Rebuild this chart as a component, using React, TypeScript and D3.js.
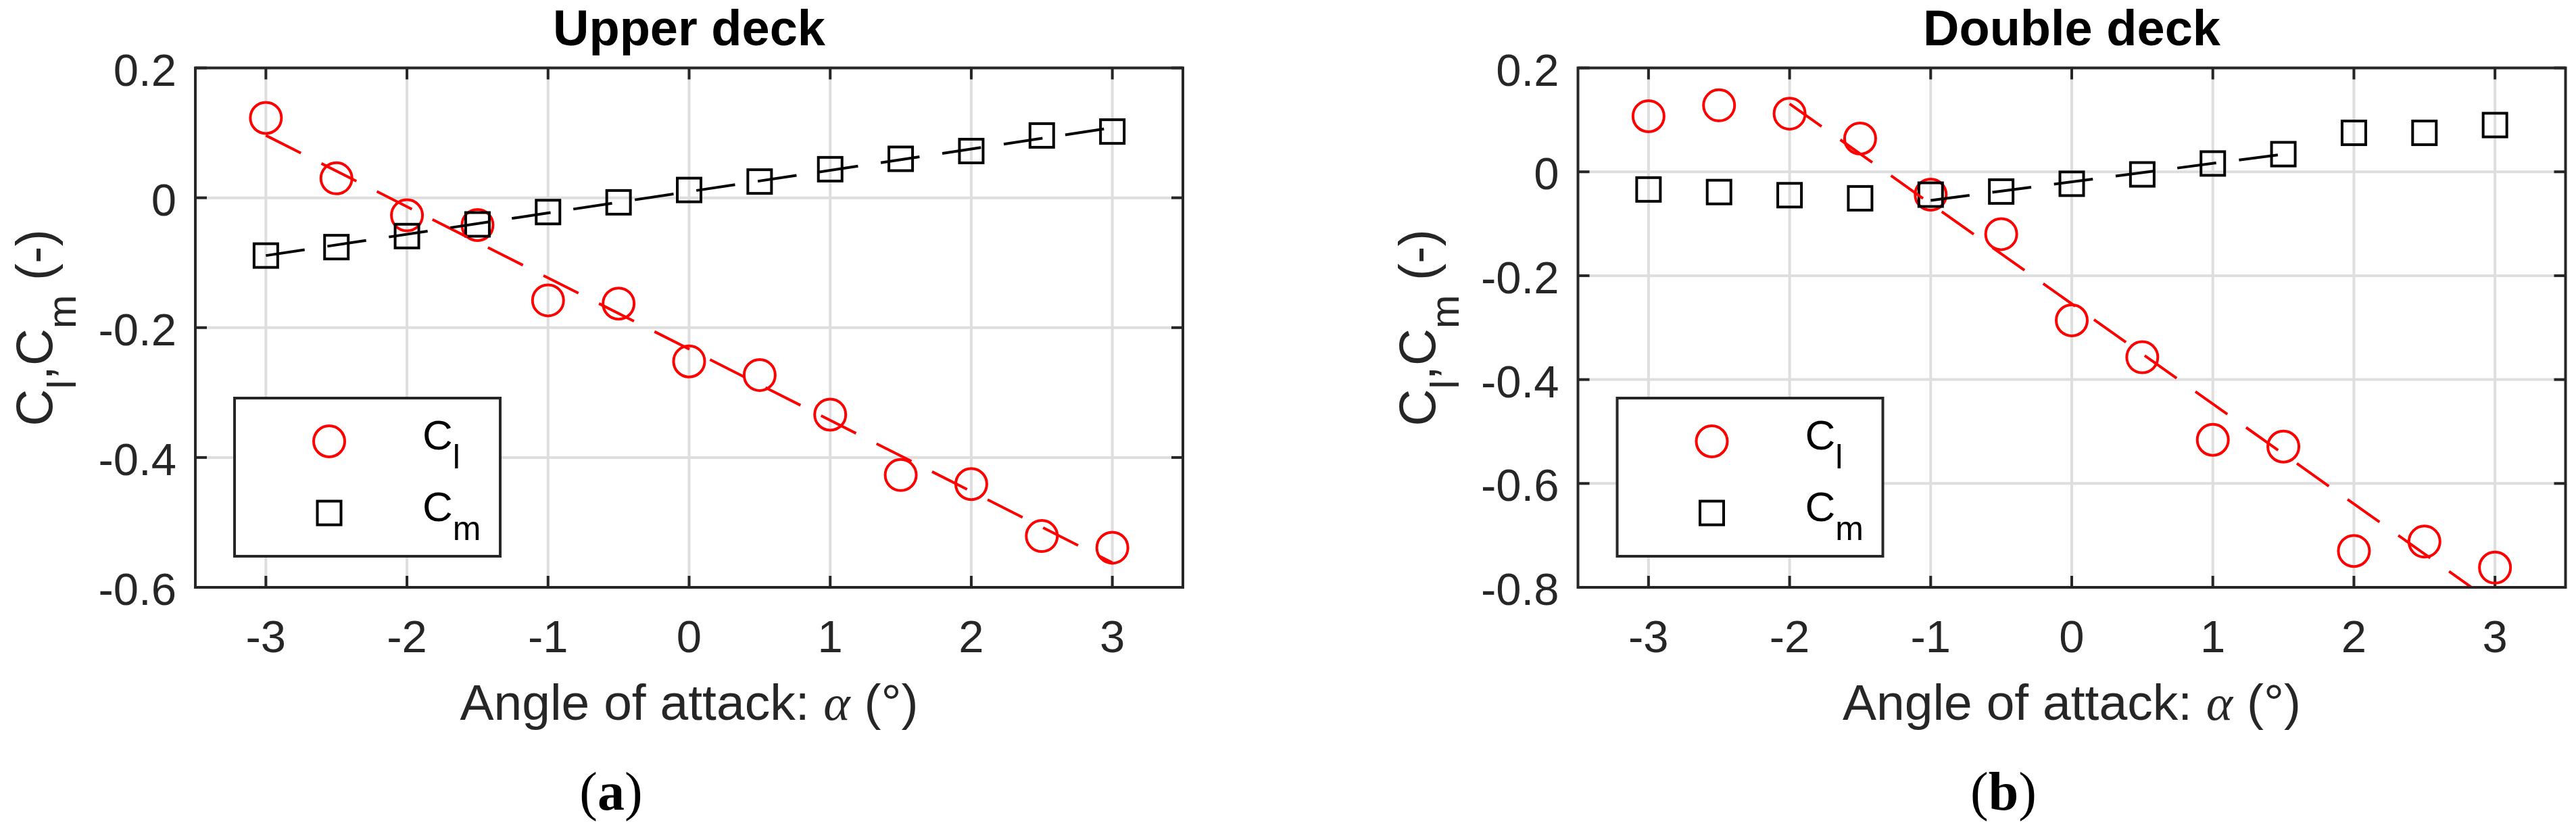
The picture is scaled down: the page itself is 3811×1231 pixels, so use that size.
import React from 'react';
import * as d3 from 'd3';

// angle of attack (deg)
const angles = [-3, -2.5, -2, -1.5, -1, -0.5, 0, 0.5, 1, 1.5, 2, 2.5, 3];

// (a) upper deck
const upperCl = [0.123, 0.030, -0.027, -0.042, -0.158, -0.163, -0.252, -0.273, -0.334, -0.427, -0.441, -0.521, -0.539];
const upperCm = [-0.089, -0.076, -0.059, -0.041, -0.022, -0.007, 0.012, 0.025, 0.044, 0.060, 0.072, 0.096, 0.102];
const upperClFitX = [-3, 3];
const upperClFit = [0.096, -0.562];
const upperCmFitX = [-3, 3];
const upperCmFit = [-0.089, 0.108];

// (b) double deck
const doubleCl = [0.107, 0.128, 0.112, 0.064, -0.044, -0.120, -0.286, -0.357, -0.516, -0.529, -0.730, -0.712, -0.762];
const doubleCm = [-0.034, -0.039, -0.045, -0.051, -0.044, -0.038, -0.023, -0.005, 0.016, 0.034, 0.075, 0.075, 0.090];
const doubleClFitX = [-2, 3];
const doubleClFit = [0.131, -0.832];
const doubleCmFitX = [-1, 1.5];
const doubleCmFit = [-0.055, 0.034];

const xTicks = [-3, -2, -1, 0, 1, 2, 3];
const upperYTicks = [-0.6, -0.4, -0.2, 0, 0.2];
const doubleYTicks = [-0.8, -0.6, -0.4, -0.2, 0, 0.2];

const W = 3811;
const H = 1231;
const TOP = 100.5;
const BOTTOM = 869;
const AXIS = '#262626';
const GRID = '#dedede';
const SANS = '"Liberation Sans", Arial, Helvetica, sans-serif';
const SERIF = '"Liberation Serif", "Times New Roman", serif';

// matlab style labels: plain hyphen, no trailing zeros
const fmt = (v: number) => String(v);

type PanelProps = {
  id: string;
  left: number;
  right: number;
  yDomain: [number, number];
  yTicks: number[];
  title: string;
  tag: string;
  tagX: number;
  cl: number[];
  cm: number[];
  clFitX: number[];
  clFit: number[];
  cmFitX: number[];
  cmFit: number[];
};

function Panel(p: PanelProps) {
  const x = d3.scaleLinear().domain([-3.5, 3.5]).range([p.left, p.right]);
  const y = d3.scaleLinear().domain(p.yDomain).range([BOTTOM, TOP]);
  const cx = (p.left + p.right) / 2;
  const cy = (TOP + BOTTOM) / 2;
  const tick = 17;

  const fitPath = (xs: number[], ys: number[]) =>
    d3
      .line<number>()
      .x((v) => x(v))
      .y((_, i) => y(ys[i]))(xs) || '';

  const lgX = p.left + 58;
  const lgY = 589;

  return (
    <g>
      <defs>
        <clipPath id={`clip-${p.id}`}>
          <rect x={p.left} y={TOP} width={p.right - p.left} height={BOTTOM - TOP} />
        </clipPath>
      </defs>

      {/* grid */}
      {xTicks.map((t) => (
        <line key={`gx${t}`} x1={x(t)} x2={x(t)} y1={TOP} y2={BOTTOM} stroke={GRID} strokeWidth={4} />
      ))}
      {p.yTicks.map((t) => (
        <line key={`gy${t}`} x1={p.left} x2={p.right} y1={y(t)} y2={y(t)} stroke={GRID} strokeWidth={4} />
      ))}

      {/* ticks on all four sides */}
      {xTicks.map((t) => (
        <g key={`tx${t}`} stroke={AXIS} strokeWidth={4}>
          <line x1={x(t)} x2={x(t)} y1={BOTTOM} y2={BOTTOM - tick} />
          <line x1={x(t)} x2={x(t)} y1={TOP} y2={TOP + tick} />
        </g>
      ))}
      {p.yTicks.map((t) => (
        <g key={`ty${t}`} stroke={AXIS} strokeWidth={4}>
          <line x1={p.left} x2={p.left + tick} y1={y(t)} y2={y(t)} />
          <line x1={p.right} x2={p.right - tick} y1={y(t)} y2={y(t)} />
        </g>
      ))}

      {/* markers */}
      {angles.map((a, i) => (
        <circle key={`cl${a}`} cx={x(a)} cy={y(p.cl[i])} r={23} fill="none" stroke="#ff0000" strokeWidth={4} />
      ))}
      {angles.map((a, i) => (
        <rect
          key={`cm${a}`}
          x={x(a) - 17.5}
          y={y(p.cm[i]) - 17.5}
          width={35}
          height={35}
          fill="none"
          stroke="#000"
          strokeWidth={4}
        />
      ))}

      {/* fitted lines */}
      <g clipPath={`url(#clip-${p.id})`} fill="none" strokeWidth={4} strokeDasharray="58 34">
        <path d={fitPath(p.clFitX, p.clFit)} stroke="#ff0000" />
        <path d={fitPath(p.cmFitX, p.cmFit)} stroke="#000" />
      </g>

      {/* frame */}
      <rect x={p.left} y={TOP} width={p.right - p.left} height={BOTTOM - TOP} fill="none" stroke={AXIS} strokeWidth={4} />

      {/* tick labels */}
      <g fontFamily={SANS} fontSize={67} fill={AXIS}>
        {xTicks.map((t) => (
          <text key={`lx${t}`} x={x(t)} y={965} textAnchor="middle">
            {fmt(t)}
          </text>
        ))}
        {p.yTicks.map((t) => (
          <text key={`ly${t}`} x={p.left - 28} y={y(t) + 26} textAnchor="end">
            {fmt(t)}
          </text>
        ))}
      </g>

      {/* title */}
      <text x={cx} y={67} textAnchor="middle" fontFamily={SANS} fontSize={74} fontWeight="bold" fill="#000">
        {p.title}
      </text>

      {/* x label */}
      <text x={cx} y={1065} textAnchor="middle" fontFamily={SANS} fontSize={75} fill={AXIS}>
        Angle of attack:{' '}
        <tspan fontFamily={SERIF} fontStyle="italic">
          α
        </tspan>{' '}
        (°)
      </text>

      {/* y label */}
      <text
        transform={`translate(${p.left - 212},${cy}) rotate(-90)`}
        textAnchor="middle"
        fontFamily={SANS}
        fontSize={76}
        fill={AXIS}
      >
        C
        <tspan fontSize={60} dy={35}>
          l
        </tspan>
        <tspan dy={-35}>,C</tspan>
        <tspan fontSize={60} dy={35}>
          m
        </tspan>
        <tspan dy={-35}> (-)</tspan>
      </text>

      {/* legend */}
      <rect x={lgX} y={lgY} width={393} height={234} fill="#fff" stroke={AXIS} strokeWidth={4} />
      <circle cx={lgX + 140} cy={lgY + 64} r={23} fill="none" stroke="#ff0000" strokeWidth={4} />
      <rect x={lgX + 140 - 17.5} y={lgY + 170 - 17.5} width={35} height={35} fill="none" stroke="#000" strokeWidth={4} />
      <g fontFamily={SANS} fontSize={62} fill="#000">
        <text x={lgX + 278} y={lgY + 76}>
          C
          <tspan fontSize={50} dy={28}>
            l
          </tspan>
        </text>
        <text x={lgX + 278} y={lgY + 182}>
          C
          <tspan fontSize={50} dy={28}>
            m
          </tspan>
        </text>
      </g>

      {/* panel tag */}
      <text x={p.tagX} y={1198} textAnchor="middle" fontFamily={SERIF} fontSize={80} fill="#000">
        (<tspan fontWeight="bold">{p.tag}</tspan>)
      </text>
    </g>
  );
}

export default function App() {
  return (
    <div style={{ position: 'absolute', left: 0, top: 0 }}>
      <svg width={W} height={H} style={{ display: 'block', background: '#fff' }}>
        <Panel
          id="a"
          left={289}
          right={1750}
          yDomain={[-0.6, 0.2]}
          yTicks={upperYTicks}
          title="Upper deck"
          tag="a"
          tagX={904}
          cl={upperCl}
          cm={upperCm}
          clFitX={upperClFitX}
          clFit={upperClFit}
          cmFitX={upperCmFitX}
          cmFit={upperCmFit}
        />
        <Panel
          id="b"
          left={2334.5}
          right={3795.5}
          yDomain={[-0.8, 0.2]}
          yTicks={doubleYTicks}
          title="Double deck"
          tag="b"
          tagX={2964}
          cl={doubleCl}
          cm={doubleCm}
          clFitX={doubleClFitX}
          clFit={doubleClFit}
          cmFitX={doubleCmFitX}
          cmFit={doubleCmFit}
        />
      </svg>
    </div>
  );
}
